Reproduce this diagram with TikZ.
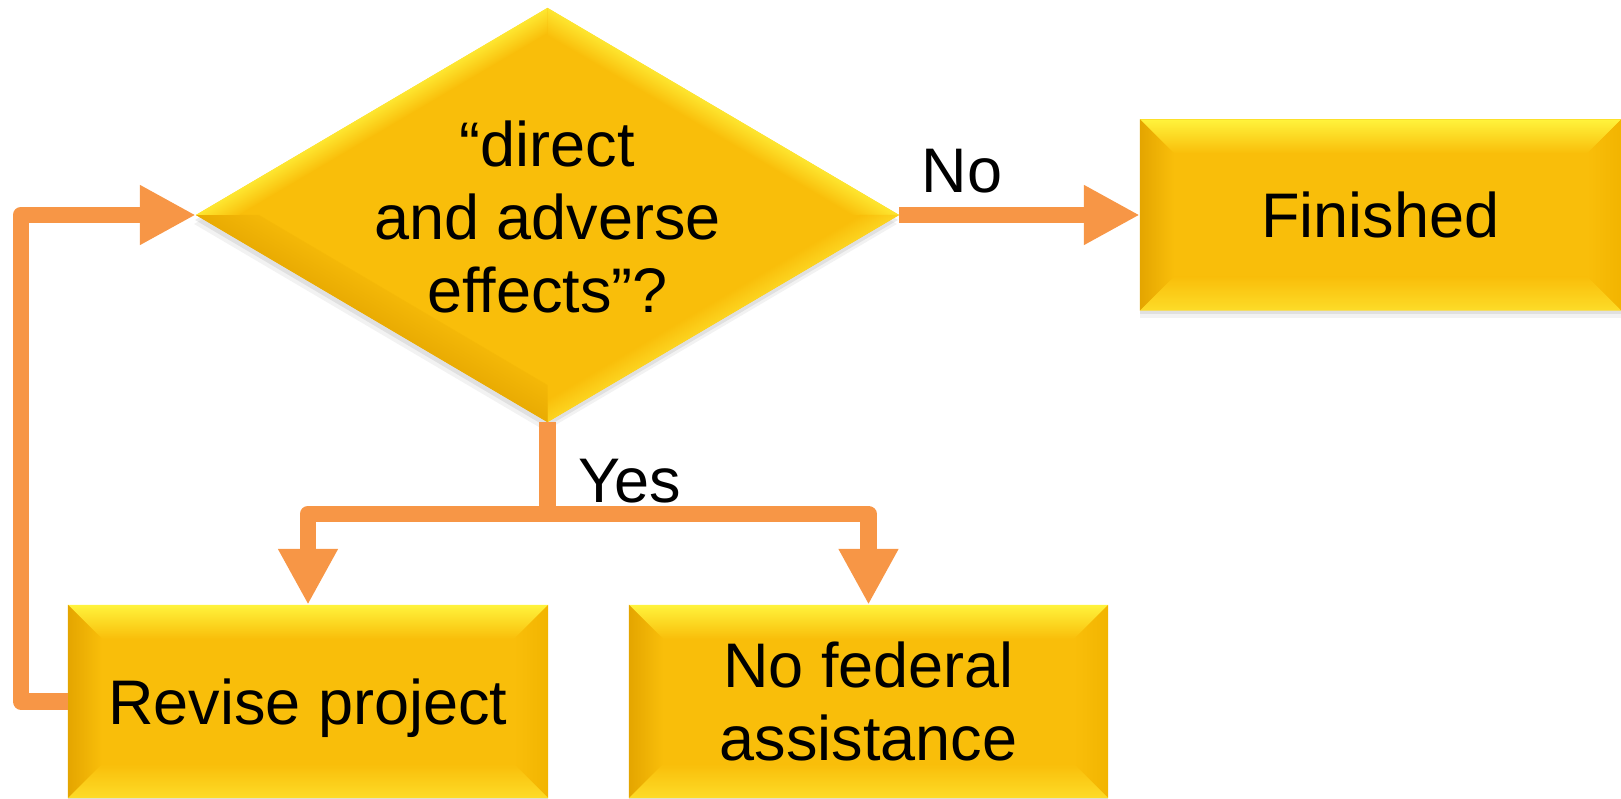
\documentclass[tikz,border=0pt]{standalone}
\usepackage{fontspec}
\setmainfont{Liberation Sans}
\usetikzlibrary{arrows.meta,shapes.geometric,calc,shadows}

\definecolor{gold}{RGB}{249,190,10}
\definecolor{goldhi}{RGB}{255,243,60}
\definecolor{goldlt}{RGB}{253,220,40}
\definecolor{golddk}{RGB}{228,165,0}
\definecolor{goldrt}{RGB}{242,180,0}
\definecolor{flow}{RGB}{247,150,70}

\newcommand\bigtxt{\fontsize{63}{73.4}\selectfont}

% bevelled frame on a rectangular node: #1 node name, #2 bevel width
\newcommand\bevelbox[2]{%
  \shade[top color=goldhi, bottom color=gold]
    (#1.north west) -- (#1.north east) -- ($(#1.north east)+(-#2,-#2)$) -- ($(#1.north west)+(#2,-#2)$) -- cycle;
  \shade[left color=golddk, right color=gold]
    (#1.north west) -- ($(#1.north west)+(#2,-#2)$) -- ($(#1.south west)+(#2,#2)$) -- (#1.south west) -- cycle;
  \shade[right color=goldrt, left color=gold]
    (#1.north east) -- (#1.south east) -- ($(#1.south east)+(-#2,#2)$) -- ($(#1.north east)+(-#2,-#2)$) -- cycle;
  \shade[bottom color=goldlt, top color=gold]
    (#1.south west) -- (#1.south east) -- ($(#1.south east)+(-#2,#2)$) -- ($(#1.south west)+(#2,#2)$) -- cycle;
}

% one facet of the bevelled diamond: outer corners #1,#2, inner corners #3,#4,
% edge angle #5, lower and upper end of the gradient band #6,#7, colour at the outer edge #8
\newcommand\diafacet[8]{%
  \begin{scope}
    \clip (#1) -- (#2) -- (#3) -- (#4) -- cycle;
    \begin{scope}[transform canvas={shift={($(#1)!0.5!(#2)$)}, rotate=#5}]
      \shade[top color=#8, bottom color=gold] (-260,#6) rectangle (260,#7);
    \end{scope}
  \end{scope}
}

\begin{document}
\begin{tikzpicture}[x=1pt,y=1pt,
  boxst/.style={rectangle, draw=none, fill=gold, inner sep=0pt,
    drop shadow={opacity=0.10, shadow xshift=0pt, shadow yshift=-8pt},
    drop shadow={opacity=0.16, shadow xshift=0pt, shadow yshift=-4pt}},
  diast/.style={diamond, draw=none, fill=gold, inner sep=0pt,
    drop shadow={opacity=0.10, shadow xshift=-2pt, shadow yshift=-9pt},
    drop shadow={opacity=0.16, shadow xshift=-1pt, shadow yshift=-5pt}},
  flowline/.style={draw=flow, line width=16.5pt, line join=round},
  flowarrow/.style={flowline, -{Triangle[length=56pt, width=56pt]}},
  lbl/.style={font=\bigtxt, inner sep=0pt}]

\useasboundingbox (0,0) rectangle (1621,798);

% decision diamond
\node[diast, minimum width=703pt, minimum height=414pt] (dia) at (547.5,583) {};
\coordinate (iT) at ($(dia.center)+(0,170)$);
\coordinate (iR) at ($(dia.center)+(288.5,0)$);
\coordinate (iB) at ($(dia.center)+(0,-170)$);
\coordinate (iL) at ($(dia.center)+(-288.5,0)$);
\diafacet{dia.north}{dia.east}{iR}{iT}{-30.5}{-24}{8}{goldhi}
\diafacet{dia.east}{dia.south}{iB}{iR}{210.5}{-20}{7}{goldlt}
\diafacet{dia.south}{dia.west}{iL}{iB}{149.5}{-48}{16}{golddk}
\diafacet{dia.west}{dia.north}{iT}{iL}{30.5}{-22}{7}{goldhi}
\node[lbl, align=center] (q) at ($(dia.center)+(0,-2)$) {“direct\\and adverse\\effects”?};

% outcome boxes
\node[boxst, minimum width=481pt, minimum height=191pt] (fin) at (1380.5,583) {};
\bevelbox{fin}{34}
\node[lbl, anchor=base] (fintext) at ($(fin.center)+(0,-23)$) {Finished};

\node[boxst, minimum width=480pt, minimum height=193pt] (rev) at (308,96.5) {};
\bevelbox{rev}{34}
\node[lbl, anchor=base] (revtext) at ($(rev.center)+(0,-22.5)$) {Revise project};

\node[boxst, minimum width=479pt, minimum height=193pt] (nfa) at (868.5,96.5) {};
\bevelbox{nfa}{34}
\node[lbl, align=center] (nfatext) at (nfa.center) {No federal\\assistance};

% connectors
\coordinate (split) at (547.5,284);
\coordinate (fbk) at (21,583);
\draw[flowarrow] (dia.east) -- (fin.west);
\draw[flowline] (dia.south) -- (split);
\draw[flowarrow] (split) -| (rev.north);
\draw[flowarrow] (split) -| (nfa.north);
\draw[flowarrow] (rev.west) -| (fbk) -- (dia.west);

% branch labels
\node[lbl, anchor=base] (no) at (962,605) {No};
\node[lbl, anchor=base] (yes) at (630,295) {Yes};
\end{tikzpicture}
\end{document}
